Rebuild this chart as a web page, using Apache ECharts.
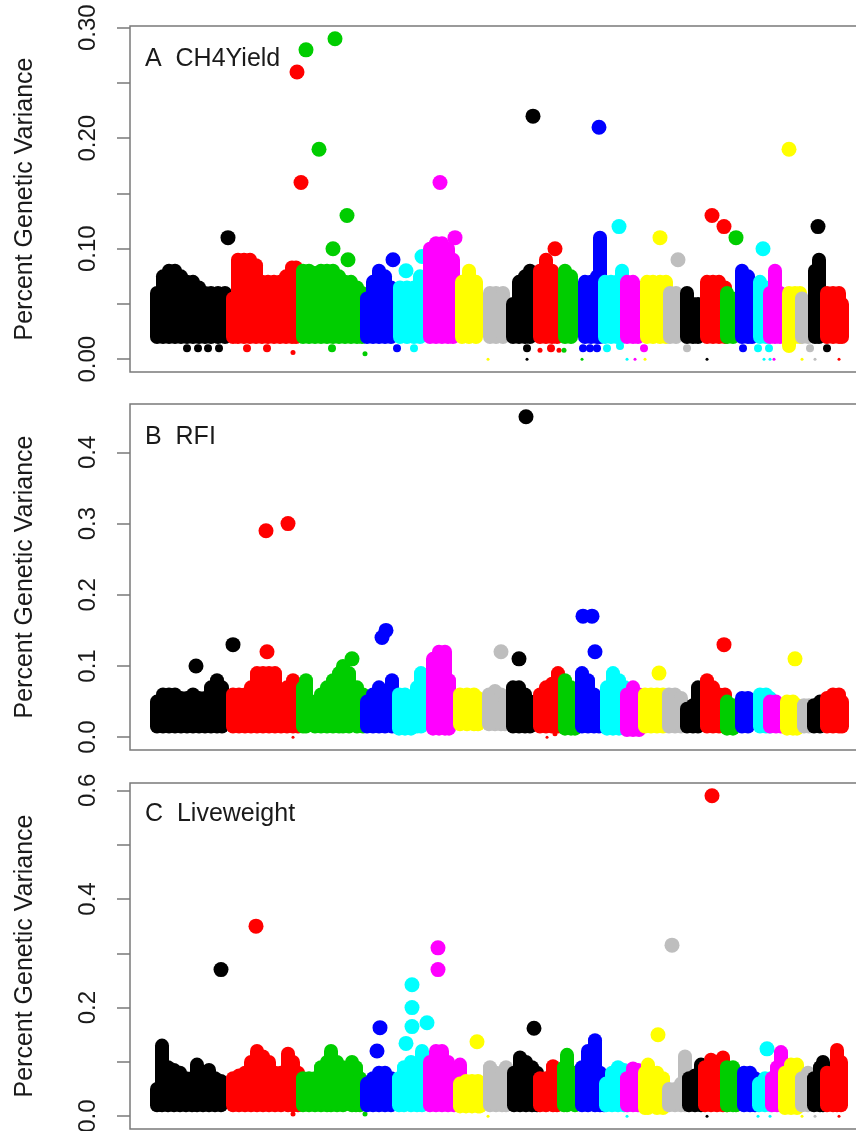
<!DOCTYPE html>
<html>
<head>
<meta charset="utf-8">
<title>Percent Genetic Variance</title>
<script src="https://cdn.jsdelivr.net/npm/echarts@6/dist/echarts.min.js"></script>
<style>
html, body { margin: 0; padding: 0; background: #fff; }
#chart { width: 856px; height: 1131px; }
</style>
</head>
<body>
<div id="chart"></div>
<script>
// chromosome colours, recycled every 8 chromosomes (R palette)
const chromColors = ['#000000', '#ff0000', '#00cd00', '#0000ff', '#00ffff', '#ff00ff', '#ffff00', '#bebebe']

// genome axis runs 0..740, chromosomes 1..26 in order
// *Cols: dense SNP runs [position, lowest value, highest value]
// *Dots: single SNPs [position, value]

// A  CH4Yield
const ch4Cols = [
  [[27,.02,.06],[33,.02,.075],[39,.02,.08],[45,.02,.08],[51,.02,.075],[57,.02,.07],[63,.02,.07],[69,.02,.065],[75,.02,.06],[81,.02,.06],[88,.02,.06],[95,.02,.06]],
  [[103,.02,.055],[108,.02,.09],[114,.02,.09],[120,.02,.09],[126,.02,.085],[132,.02,.07],[138,.02,.07],[144,.02,.07],[150,.02,.07],[156,.02,.075],[162,.02,.083],[166,.02,.083]],
  [[173,.02,.08],[179,.02,.08],[185,.02,.078],[191,.02,.08],[197,.02,.08],[203,.02,.08],[209,.02,.075],[215,.02,.07],[221,.02,.07],[227,.02,.065],[232,.02,.06]],
  [[237,.02,.055],[243,.02,.07],[249,.02,.08],[255,.02,.075],[261,.02,.065]],
  [[270,.02,.065],[277,.02,.065],[284,.02,.065],[290,.02,.075]],
  [[300,.02,.1],[306,.02,.105],[312,.02,.105],[318,.02,.1],[323,.02,.09]],
  [[332,.02,.07],[339,.02,.08],[346,.02,.07]],
  [[360,.02,.06],[366,.02,.06],[373,.02,.06]],
  [[383,.02,.05],[389,.02,.07],[395,.02,.075],[400,.02,.08]],
  [[410,.02,.08],[416,.02,.09],[422,.02,.08],[427,.02,.07]],
  [[435,.02,.08],[441,.02,.075]],
  [[455,.02,.07],[461,.02,.07],[467,.02,.075],[470,.02,.11]],
  [[475,.02,.07],[481,.02,.07],[487,.02,.07],[492,.02,.08]],
  [[497,.02,.07],[503,.02,.07],[508,.02,.065]],
  [[517,.02,.07],[523,.02,.07],[530,.02,.07],[536,.02,.07]],
  [[540,.02,.06],[546,.02,.06]],
  [[557,.02,.06],[563,.02,.05],[568,.02,.05]],
  [[577,.02,.07],[583,.02,.07],[589,.02,.07],[595,.02,.065]],
  [[597,.02,.06],[603,.02,.055]],
  [[612,.02,.08],[618,.02,.075],[622,.02,.06]],
  [[630,.02,.07],[636,.02,.065]],
  [[640,.02,.06],[645,.02,.08],[650,.02,.06]],
  [[659,.012,.06],[665,.02,.06],[670,.02,.06]],
  [[672,.02,.055],[678,.02,.05]],
  [[685,.02,.08],[689,.02,.09]],
  [[697,.02,.06],[703,.02,.06],[709,.02,.06],[712,.02,.05]]
]
const ch4Dots = [
  [[98,.11],[57,.01],[68,.01],[78,.01],[89,.01]],
  [[167,.26],[171,.16],[117,.01],[137,.01],[163,.006]],
  [[176,.28],[205,.29],[189,.19],[217,.13],[203,.1],[218,.09],[202,.01],[235,.005]],
  [[263,.09],[267,.01]],
  [[276,.08],[292,.093],[284,.01]],
  [[325,.11],[310,.16]],
  [[358,0]],
  [],
  [[403,.22],[397,.01],[397,0]],
  [[425,.1],[410,.008],[421,.01],[429,.008]],
  [[434,.008],[452,0]],
  [[469,.21],[453,.01],[460,.01],[467,.01]],
  [[489,.12],[477,.01],[490,.012],[497,0]],
  [[514,.01],[505,0]],
  [[530,.11],[515,0]],
  [[548,.09],[557,.01]],
  [[577,0]],
  [[582,.13],[594,.12]],
  [[606,.11]],
  [[613,.01]],
  [[633,.1],[628,.01],[639,.01],[634,0],[640,0]],
  [[644,0]],
  [[659,.19],[672,0]],
  [[680,.01],[685,0]],
  [[688,.12],[697,.01]],
  [[709,0]]
]

// B  RFI
const rfiCols = [
  [[27,.015,.05],[33,.015,.06],[39,.015,.06],[45,.015,.06],[51,.015,.055],[57,.015,.055],[63,.015,.06],[69,.015,.055],[75,.015,.055],[81,.015,.07],[87,.015,.08],[92,.015,.07]],
  [[103,.015,.06],[109,.015,.06],[115,.015,.06],[121,.015,.07],[127,.015,.09],[133,.015,.09],[139,.015,.09],[145,.015,.09],[151,.015,.06],[157,.015,.07],[163,.015,.08],[168,.015,.065]],
  [[173,.015,.07],[176,.015,.08],[185,.015,.05],[191,.015,.06],[197,.015,.07],[203,.015,.08],[209,.015,.09],[213,.015,.1],[219,.015,.09],[227,.015,.07],[233,.015,.06]],
  [[237,.015,.05],[243,.015,.06],[249,.015,.07],[255,.015,.06],[262,.015,.08]],
  [[269,.012,.06],[275,.012,.06],[281,.012,.055],[287,.015,.07],[291,.015,.09]],
  [[303,.012,.11],[309,.012,.12],[315,.012,.12],[319,.012,.08]],
  [[330,.018,.06],[337,.018,.06],[344,.018,.06],[348,.018,.055]],
  [[359,.018,.06],[365,.018,.065],[371,.018,.06],[375,.018,.05]],
  [[383,.015,.07],[389,.015,.07],[395,.015,.06],[400,.015,.05]],
  [[410,.015,.06],[416,.015,.07],[422,.015,.075],[428,.015,.09]],
  [[435,.012,.08],[441,.012,.07],[445,.012,.06]],
  [[452,.015,.09],[458,.015,.08],[464,.015,.06],[469,.015,.05]],
  [[477,.012,.07],[483,.012,.09],[489,.012,.08],[495,.012,.07]],
  [[497,.01,.06],[503,.01,.07],[509,.01,.06]],
  [[515,.015,.06],[521,.015,.06],[527,.015,.06],[533,.015,.06]],
  [[539,.015,.06],[545,.015,.06],[551,.015,.055]],
  [[557,.015,.04],[563,.015,.045],[568,.015,.07]],
  [[577,.015,.08],[583,.015,.07],[589,.015,.06],[595,.015,.06]],
  [[597,.012,.05],[603,.012,.045]],
  [[612,.015,.055],[618,.015,.055]],
  [[630,.015,.06],[636,.015,.06],[640,.015,.055]],
  [[640,.015,.05],[646,.015,.05],[651,.015,.045]],
  [[657,.012,.05],[663,.012,.05],[667,.012,.045]],
  [[674,.015,.045],[679,.015,.045]],
  [[684,.015,.045],[690,.015,.05]],
  [[697,.015,.055],[703,.015,.06],[709,.015,.06],[712,.015,.05]]
]
const rfiDots = [
  [[66,.1],[103,.13]],
  [[137,.12],[136,.29],[158,.3],[163,0]],
  [[222,.11]],
  [[252,.14],[256,.15]],
  [],
  [],
  [],
  [[371,.12]],
  [[389,.11],[396,.45]],
  [[417,0],[425,.005]],
  [],
  [[453,.17],[462,.17],[465,.12]],
  [],
  [],
  [[529,.09]],
  [],
  [],
  [[594,.13]],
  [],
  [],
  [],
  [],
  [[665,.11]],
  [],
  [],
  []
]

// C  Liveweight
const lwCols = [
  [[27,.02,.05],[32,.02,.13],[38,.02,.09],[44,.02,.085],[50,.02,.08],[56,.02,.07],[62,.02,.07],[67,.02,.095],[73,.02,.07],[79,.02,.085],[85,.02,.07],[91,.02,.065]],
  [[103,.02,.07],[109,.02,.075],[115,.02,.08],[121,.02,.1],[127,.02,.12],[133,.02,.11],[139,.02,.1],[145,.02,.08],[151,.02,.08],[158,.02,.115],[163,.02,.1],[168,.02,.08]],
  [[173,.02,.07],[179,.02,.07],[185,.02,.07],[191,.02,.09],[197,.02,.1],[201,.02,.12],[207,.02,.1],[213,.02,.09],[222,.02,.1],[226,.02,.09],[230,.02,.07]],
  [[237,.02,.06],[243,.02,.07],[249,.02,.08],[255,.02,.08],[261,.02,.07]],
  [[269,.02,.07],[274,.02,.09],[281,.02,.1],[287,.02,.08],[292,.02,.12]],
  [[300,.02,.1],[306,.02,.12],[312,.02,.12],[318,.02,.1],[324,.02,.08],[330,.02,.095],[334,.02,.06]],
  [[330,.018,.06],[336,.018,.065],[342,.018,.065],[348,.018,.065],[350,.018,.06]],
  [[360,.02,.09],[366,.02,.08],[372,.02,.08],[376,.02,.09]],
  [[384,.02,.08],[390,.02,.108],[396,.02,.1],[402,.02,.09],[407,.02,.08]],
  [[410,.02,.07],[416,.02,.07],[423,.02,.092],[427,.02,.07]],
  [[434,.02,.09],[437,.02,.113],[445,.02,.08]],
  [[452,.02,.09],[458,.02,.12],[465,.02,.14],[470,.02,.08],[474,.02,.07]],
  [[476,.02,.06],[482,.02,.08],[488,.02,.09],[494,.02,.085],[498,.02,.07]],
  [[497,.02,.07],[503,.02,.088],[508,.02,.085]],
  [[515,.015,.08],[518,.015,.095],[527,.015,.08],[533,.015,.07]],
  [[539,.02,.05],[545,.02,.05],[551,.02,.06],[555,.02,.11]],
  [[559,.02,.07],[565,.02,.075],[571,.02,.095]],
  [[575,.02,.09],[581,.02,.104],[587,.02,.1],[593,.02,.108],[597,.02,.08]],
  [[597,.02,.09],[603,.02,.09],[606,.02,.07]],
  [[614,.02,.08],[620,.02,.08],[625,.02,.07]],
  [[629,.02,.06],[635,.02,.07],[641,.02,.07]],
  [[642,.02,.07],[647,.02,.09],[651,.02,.118],[656,.02,.09]],
  [[655,.015,.08],[661,.015,.095],[667,.015,.095]],
  [[672,.02,.07],[678,.02,.08]],
  [[684,.02,.07],[690,.02,.09],[693,.02,.1]],
  [[697,.02,.08],[703,.02,.08],[707,.02,.122],[711,.02,.1]]
]
const lwDots = [
  [[91,.27]],
  [[126,.35],[163,.004]],
  [[235,.004]],
  [[247,.12],[250,.163]],
  [[276,.134],[282,.165],[282,.2],[282,.242],[297,.172]],
  [[308,.31],[308,.27]],
  [[347,.137],[358,0]],
  [],
  [[404,.162]],
  [],
  [],
  [],
  [[497,0]],
  [],
  [[528,.15]],
  [[542,.315]],
  [[577,0]],
  [[582,.59]],
  [],
  [],
  [[637,.124],[628,0],[640,0]],
  [],
  [[672,0]],
  [[685,0]],
  [],
  [[709,0]]
]

// axis ticks and labelled ticks for each panel
const ch4Ticks = [0, 0.05, 0.1, 0.15, 0.2, 0.25, 0.3]
const ch4Labels = [0, 0.1, 0.2, 0.3]
const rfiTicks = [0, 0.1, 0.2, 0.3, 0.4]
const rfiLabels = [0, 0.1, 0.2, 0.3, 0.4]
const lwTicks = [0, 0.1, 0.2, 0.3, 0.4, 0.5, 0.6]
const lwLabels = [0, 0.2, 0.4, 0.6]

const panels = [
  { title: 'A  CH4Yield', cols: ch4Cols, dots: ch4Dots, ticks: ch4Ticks, labels: ch4Labels, digits: 2, min: -0.0116, max: 0.3016, top: 26, titleTop: 47 },
  { title: 'B  RFI', cols: rfiCols, dots: rfiDots, ticks: rfiTicks, labels: rfiLabels, digits: 1, min: -0.018, max: 0.468, top: 404, titleTop: 425 },
  { title: 'C  Liveweight', cols: lwCols, dots: lwDots, ticks: lwTicks, labels: lwLabels, digits: 1, min: -0.0236, max: 0.6136, top: 783, titleTop: 802 },
]

const textColor = '#1a1a1a'
const boxColor = '#7a7a7a'

function dotSize(v) {
  if (v >= 0.015) return 15
  if (v >= 0.009) return 8
  if (v >= 0.003) return 5
  return 3
}

function renderSnp(params, api) {
  const x = api.value(0)
  const lo = api.value(1)
  const hi = api.value(2)
  const isRun = api.value(3) === 1
  const p1 = api.coord([x, hi])
  const p0 = api.coord([x, lo])
  const r = (isRun ? 14 : dotSize(lo)) / 2
  return {
    type: 'rect',
    shape: { x: p1[0] - r, y: p1[1] - r, width: 2 * r, height: p0[1] - p1[1] + 2 * r, r: r },
    style: { fill: api.visual('color') },
  }
}

const grids = []
const xAxes = []
const yAxes = []
const titles = []
const series = []

panels.forEach((p, i) => {
  grids.push({
    left: 130, top: p.top, width: 740, height: 346,
    outerBoundsMode: 'none', containLabel: false,
    show: true, borderColor: boxColor, borderWidth: 1.5, backgroundColor: 'transparent',
  })
  xAxes.push({ type: 'value', gridIndex: i, min: 0, max: 740, show: false })
  yAxes.push({
    type: 'value', gridIndex: i, min: p.min, max: p.max,
    name: 'Percent Genetic Variance', nameLocation: 'middle', nameGap: 92,
    nameTextStyle: { fontSize: 25, color: textColor, fontFamily: 'Liberation Sans' },
    axisLine: { show: false },
    splitLine: { show: false },
    axisTick: { show: true, length: 13, customValues: p.ticks, lineStyle: { color: boxColor, width: 1.5 } },
    axisLabel: {
      customValues: p.labels, rotate: 90, margin: 30, fontSize: 24,
      color: textColor, fontFamily: 'Liberation Sans',
      formatter: (v) => Number(v).toFixed(p.digits),
    },
  })
  titles.push({
    text: p.title, left: 145, top: p.titleTop, padding: 0,
    textStyle: { fontSize: 25, fontWeight: 'normal', color: textColor, fontFamily: 'Liberation Sans' },
  })
  p.cols.forEach((runs, c) => {
    const data = runs.map((d) => [d[0], d[1], d[2], 1])
      .concat(p.dots[c].map((d) => [d[0], d[1], d[1], 0]))
    series.push({
      type: 'custom',
      xAxisIndex: i, yAxisIndex: i,
      renderItem: renderSnp,
      encode: { x: 0, y: [1, 2] },
      itemStyle: { color: chromColors[c % 8] },
      silent: true,
      data: data,
    })
  })
})

const chart = echarts.init(document.getElementById('chart'), null, { renderer: 'canvas' })
chart.setOption({
  animation: false,
  backgroundColor: '#ffffff',
  title: titles,
  grid: grids,
  xAxis: xAxes,
  yAxis: yAxes,
  series: series,
})
</script>
</body>
</html>
